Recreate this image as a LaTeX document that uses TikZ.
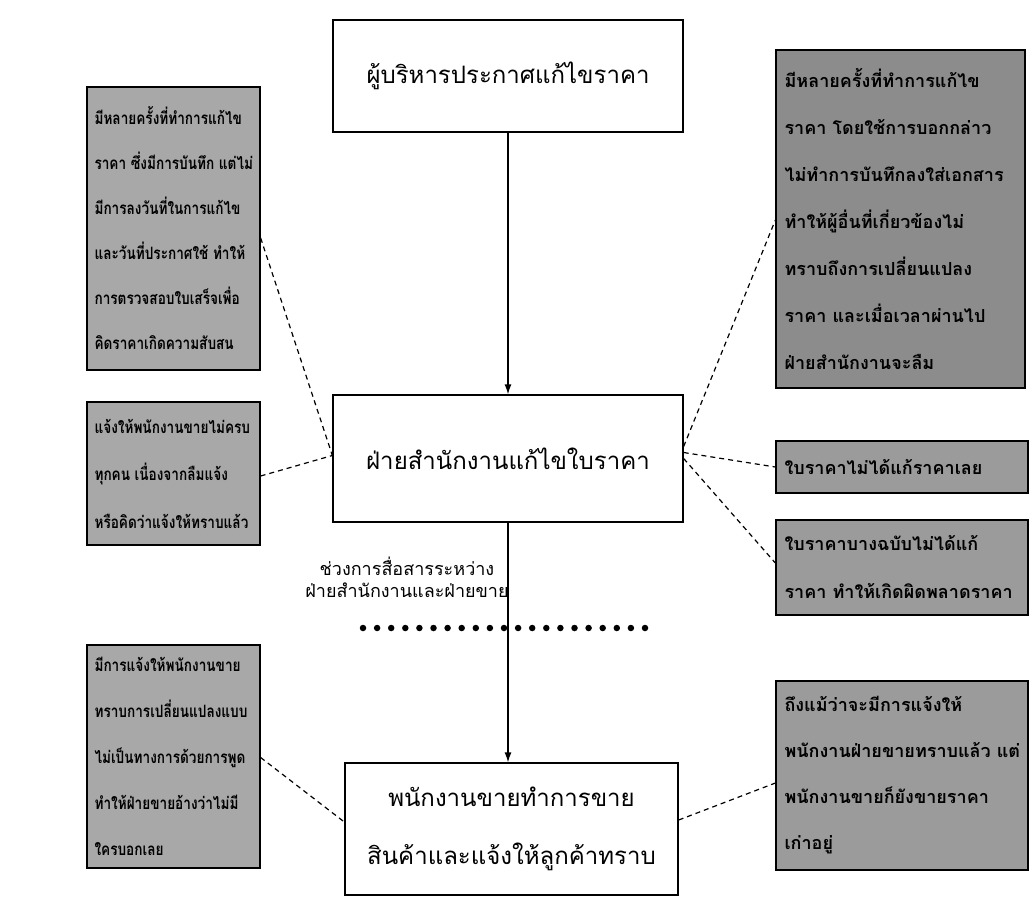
\documentclass[tikz,border=0pt]{standalone}
\usepackage{fontspec}
\newfontfamily\thai[Script=Thai]{Loma}
\newfontfamily\thaicond[Script=Thai,FakeStretch=0.8]{Loma}
\usetikzlibrary{arrows.meta}
\definecolor{noteA}{RGB}{168,168,168}
\definecolor{noteB}{RGB}{140,140,140}
\definecolor{noteC}{RGB}{155,155,155}
\begin{document}
\begin{tikzpicture}[x=1pt,y=-1pt,
  mainbox/.style={draw=black, line width=1.3pt, fill=white, align=center, inner sep=0pt,
    font=\thai\fontsize{24}{58}\selectfont},
  notebox/.style={draw=black, line width=1.3pt, fill=#1, inner sep=0pt},
  lefttext/.style={anchor=west, align=left, inner sep=0pt, font=\thaicond\bfseries\fontsize{17}{#1}\selectfont},
  righttext/.style={anchor=west, align=left, inner sep=0pt, font=\thai\bfseries\fontsize{18}{#1}\selectfont},
  flow/.style={line width=1.3pt, -{Latex[length=10pt,width=7pt]}},
  link/.style={line width=1.2pt, dash pattern=on 5pt off 4pt},
  caption/.style={align=center, inner sep=0pt, font=\thai\fontsize{18}{22}\selectfont}
]
\useasboundingbox[fill=white] (0,0) rectangle (1032,902);

% main boxes
\node[mainbox, minimum width=350, minimum height=112] (top) at (508,76) {ผู้บริหารประกาศแก้ไขราคา};
\node[mainbox, minimum width=350, minimum height=127] (mid) at (508,458.5) {ฝ่ายสำนักงานแก้ไขใบราคา};
\node[mainbox, minimum width=333, minimum height=132] (bot) at (511.5,829) {พนักงานขายทำการขาย\\สินค้าและแจ้งให้ลูกค้าทราบ};

% arrows
\draw[flow] (top.south) -- (mid.north);
\draw[flow] (mid.south) -- (mid.south |- bot.north);

% caption and dotted line
\node[caption] (cap) at (407,577) {ช่วงการสื่อสารระหว่าง\\ฝ่ายสำนักงานและฝ่ายขาย};
\coordinate (d1) at (363,628);
\coordinate (d2) at (645,628);
\draw[line width=6.5pt, line cap=round, dash pattern=on 0pt off 14.1pt] (d1) -- (d2);

% left notes
\node[notebox=noteA, minimum width=173, minimum height=283] (L1) at (173.5,228.5) {};
\node[lefttext=45] at ([xshift=8pt]L1.west) {มีหลายครั้งที่ทำการแก้ไข\\ราคา ซึ่งมีการบันทึก แต่ไม่\\มีการลงวันที่ในการแก้ไข\\และวันที่ประกาศใช้ ทำให้\\การตรวจสอบใบเสร็จเพื่อ\\คิดราคาเกิดความสับสน};

\node[notebox=noteA, minimum width=173, minimum height=143] (L2) at (173.5,473.5) {};
\node[lefttext=47.5] at ([xshift=8pt]L2.west) {แจ้งให้พนักงานขายไม่ครบ\\ทุกคน เนื่องจากลืมแจ้ง\\หรือคิดว่าแจ้งให้ทราบแล้ว};

\node[notebox=noteA, minimum width=173, minimum height=223] (L3) at (173.5,756.5) {};
\node[lefttext=46] at ([xshift=8pt]L3.west) {มีการแจ้งให้พนักงานขาย\\ทราบการเปลี่ยนแปลงแบบ\\ไม่เป็นทางการด้วยการพูด\\ทำให้ฝ่ายขายอ้างว่าไม่มี\\ใครบอกเลย};

% right notes
\node[notebox=noteB, minimum width=249, minimum height=338] (R1) at (900.5,219) {};
\node[righttext=47] at ([xshift=9pt]R1.west) {มีหลายครั้งที่ทำการแก้ไข\\ราคา โดยใช้การบอกกล่าว\\ไม่ทำการบันทึกลงใส่เอกสาร\\ทำให้ผู้อื่นที่เกี่ยวข้องไม่\\ทราบถึงการเปลี่ยนแปลง\\ราคา และเมื่อเวลาผ่านไป\\ฝ่ายสำนักงานจะลืม};

\node[notebox=noteC, minimum width=252, minimum height=52] (R2) at (902,467) {};
\node[righttext=47] at ([xshift=9pt]R2.west) {ใบราคาไม่ได้แก้ราคาเลย};

\node[notebox=noteC, minimum width=252, minimum height=95] (R3) at (902,567.5) {};
\node[righttext=48] at ([xshift=9pt]R3.west) {ใบราคาบางฉบับไม่ได้แก้\\ราคา ทำให้เกิดผิดพลาดราคา};

\node[notebox=noteC, minimum width=252, minimum height=189] (R4) at (902,775.5) {};
\node[righttext=46] at ([xshift=9pt]R4.west) {ถึงแม้ว่าจะมีการแจ้งให้\\พนักงานฝ่ายขายทราบแล้ว แต่\\พนักงานขายก็ยังขายราคา\\เก่าอยู่};

% dashed links
\draw[link] ([yshift=-9.5pt]L1.east) -- ([yshift=3pt]mid.west);
\draw[link] ([yshift=-2.5pt]L2.east) -- ([yshift=3pt]mid.west);
\draw[link] ([yshift=-1pt]L3.east) -- ([yshift=7pt]bot.west);
\draw[link] ([yshift=12pt]mid.east) -- ([yshift=-1pt]R1.west);
\draw[link] ([yshift=6pt]mid.east) -- (R2.west);
\draw[link] (mid.east) -- ([yshift=4.5pt]R3.west);
\draw[link] ([yshift=9pt]bot.east) -- ([yshift=-7.5pt]R4.west);
\end{tikzpicture}
\end{document}
